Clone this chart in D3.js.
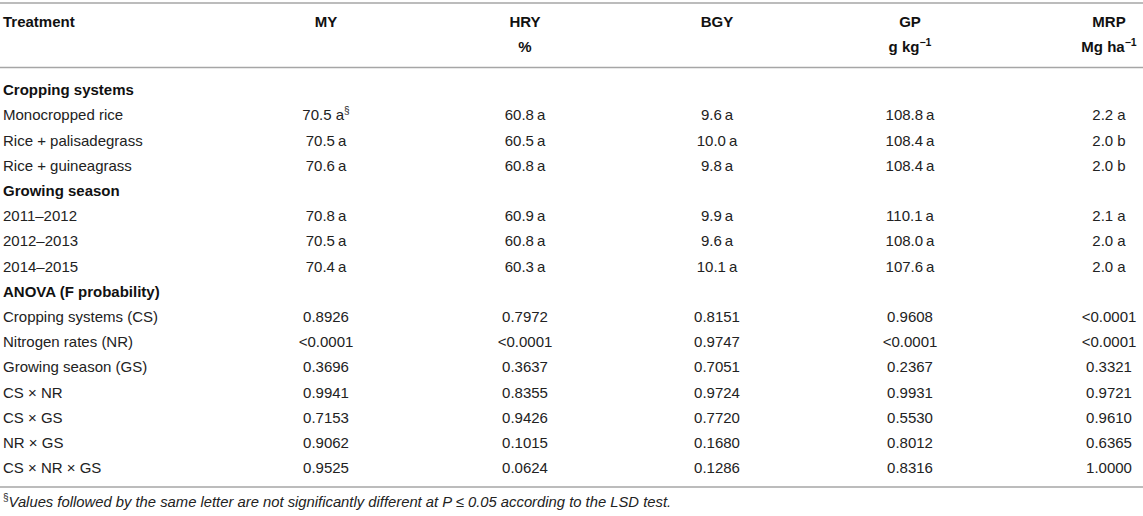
<!DOCTYPE html>
<html>
<head>
<meta charset="utf-8">
<script src="https://cdn.jsdelivr.net/npm/d3@7"></script>
<style>
  html, body { margin: 0; padding: 0; background: #fff; }
  svg { display: block; font-family: "Liberation Sans", Arial, Helvetica, sans-serif; }
</style>
</head>
<body>
<svg id="tbl" width="1143" height="516"></svg>
<script>
// ---------- DATA ----------
const columns = ["MY", "HRY", "BGY", "GP", "MRP"];
const unitBase = ["", "%", "", "g kg", "Mg ha"];
const unitSup  = ["", "", "", "−1", "−1"];

const sectionTitles = ["Cropping systems", "Growing season", "ANOVA (F probability)"];
const croppingRows = ["Monocropped rice", "Rice + palisadegrass", "Rice + guineagrass"];
const seasonRows   = ["2011–2012", "2012–2013", "2014–2015"];
const anovaRows    = ["Cropping systems (CS)", "Nitrogen rates (NR)", "Growing season (GS)",
                      "CS × NR", "CS × GS", "NR × GS", "CS × NR × GS"];

// means (cropping systems then growing seasons) and their letters
const meanMY  = [70.5, 70.5, 70.6, 70.8, 70.5, 70.4];
const meanHRY = [60.8, 60.5, 60.8, 60.9, 60.8, 60.3];
const meanBGY = [9.6, 10.0, 9.8, 9.9, 9.6, 10.1];
const meanGP  = [108.8, 108.4, 108.4, 110.1, 108.0, 107.6];
const meanMRP = [2.2, 2.0, 2.0, 2.1, 2.0, 2.0];
const letMY  = ["a", "a", "a", "a", "a", "a"];
const letHRY = ["a", "a", "a", "a", "a", "a"];
const letBGY = ["a", "a", "a", "a", "a", "a"];
const letGP  = ["a", "a", "a", "a", "a", "a"];
const letMRP = ["a", "b", "b", "a", "a", "a"];

// ANOVA F probabilities
const pMY  = ["0.8926", "<0.0001", "0.3696", "0.9941", "0.7153", "0.9062", "0.9525"];
const pHRY = ["0.7972", "<0.0001", "0.3637", "0.8355", "0.9426", "0.1015", "0.0624"];
const pBGY = ["0.8151", "0.9747", "0.7051", "0.9724", "0.7720", "0.1680", "0.1286"];
const pGP  = ["0.9608", "<0.0001", "0.2367", "0.9931", "0.5530", "0.8012", "0.8316"];
const pMRP = ["<0.0001", "<0.0001", "0.3321", "0.9721", "0.9610", "0.6365", "1.0000"];

const footnoteMark = "§";
const footnoteText = "Values followed by the same letter are not significantly different at P ≤ 0.05 according to the LSD test.";

// ---------- BUILD ROWS ----------
const means = [meanMY, meanHRY, meanBGY, meanGP, meanMRP];
const letters = [letMY, letHRY, letBGY, letGP, letMRP];
const pvals = [pMY, pHRY, pBGY, pGP, pMRP];

const rows = [];
rows.push({label: sectionTitles[0], bold: true});
croppingRows.forEach((r, i) => rows.push({label: r, cells: means.map((m, c) => ({num: m[i].toFixed(1), letter: letters[c][i], sup: (i === 0 && c === 0) ? footnoteMark : "", wide: c === 4 || (i === 0 && c === 0)}))}));
rows.push({label: sectionTitles[1], bold: true});
seasonRows.forEach((r, j) => { const i = j + 3; rows.push({label: r, cells: means.map((m, c) => ({num: m[i].toFixed(1), letter: letters[c][i], sup: "", wide: c === 4}))}); });
rows.push({label: sectionTitles[2], bold: true});
anovaRows.forEach((r, i) => rows.push({label: r, cells: pvals.map(p => ({num: p[i]}))}));

// ---------- LAYOUT ----------
const svg = d3.select("#tbl");
const W = 1143;
const textColor = "#222";
const ruleColor = "#a6a6a6";
const fs = 15;

const x = d3.scaleOrdinal().domain(columns).range([326, 525, 717, 910, 1109]);
const y = d3.scalePoint().domain(d3.range(rows.length)).range([90, 468]);

// rules
[3, 67.5, 487].forEach(yy => {
  svg.append("line").attr("x1", 0).attr("x2", W).attr("y1", yy).attr("y2", yy)
    .attr("stroke", ruleColor).attr("stroke-width", 1.6);
});

// header
svg.append("text").attr("x", 3).attr("y", 22).attr("dy", "0.35em")
  .attr("font-size", fs).attr("font-weight", "bold").attr("fill", "#111").text("Treatment");

const hdr = svg.selectAll("g.hdr").data(columns).join("g").attr("class", "hdr");
hdr.append("text").attr("x", d => x(d)).attr("y", 22).attr("dy", "0.35em")
  .attr("text-anchor", "middle").attr("font-size", fs).attr("font-weight", "bold").attr("fill", "#111")
  .text(d => d);
hdr.each(function(d, i) {
  if (!unitBase[i]) return;
  const t = d3.select(this).append("text").attr("x", x(d)).attr("y", 47).attr("dy", "0.35em")
    .attr("text-anchor", "middle").attr("font-size", fs).attr("font-weight", "bold").attr("fill", "#111");
  t.append("tspan").text(unitBase[i]);
  if (unitSup[i]) t.append("tspan").attr("font-size", 10.5).attr("dy", "-0.55em").text(unitSup[i]);
});

// body
const rg = svg.selectAll("g.row").data(rows).join("g").attr("class", "row")
  .attr("transform", (d, i) => `translate(0,${y(i)})`);

rg.append("text").attr("x", 3).attr("dy", "0.35em").attr("font-size", fs)
  .attr("font-weight", d => d.bold ? "bold" : "normal")
  .attr("fill", d => d.bold ? "#111" : textColor)
  .text(d => d.label);

rg.each(function(d) {
  if (!d.cells) return;
  const g = d3.select(this);
  d.cells.forEach((cell, c) => {
    const t = g.append("text").attr("x", x(columns[c])).attr("dy", "0.35em")
      .attr("text-anchor", "middle").attr("font-size", fs).attr("fill", textColor);
    if (cell.letter) {
      t.append("tspan").text(cell.num + (cell.wide ? " " : "\u2009") + cell.letter);
    } else {
      t.append("tspan").text(cell.num);
    }
    if (cell.sup) t.append("tspan").attr("font-size", 10).attr("dy", "-0.6em").text(cell.sup);
  });
});

// footnote
const fn = svg.append("text").attr("x", 3).attr("y", 505).attr("dy", "0.35em")
  .attr("font-size", 14.8).attr("font-style", "italic").attr("fill", textColor);
fn.append("tspan").attr("font-size", 10).attr("dy", "-0.4em").attr("font-style", "normal").text(footnoteMark);
fn.append("tspan").attr("dy", "0.4em").text(footnoteText);
</script>
</body>
</html>
